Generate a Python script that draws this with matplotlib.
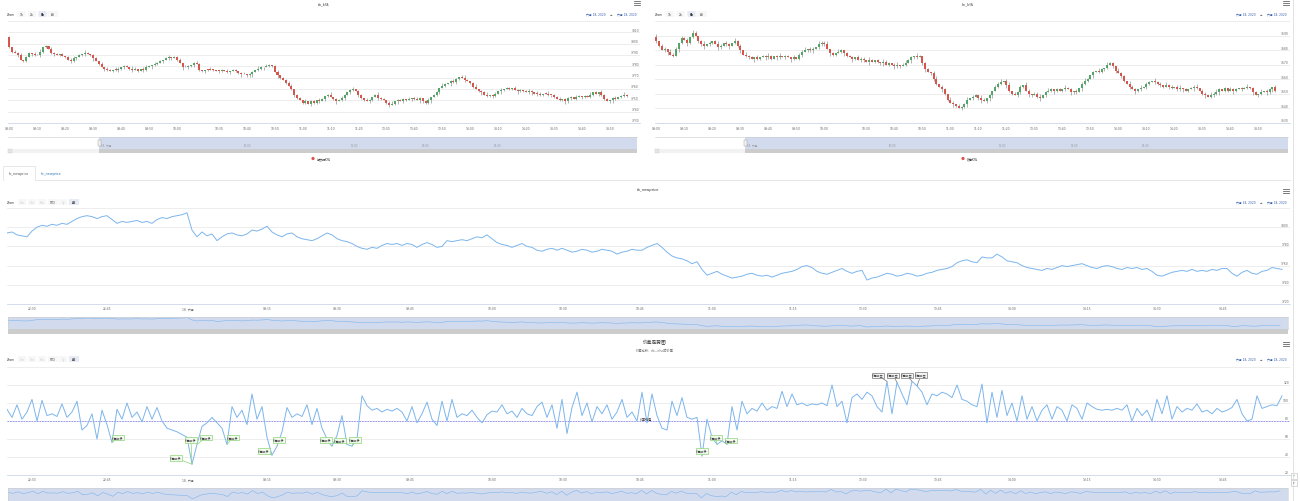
import matplotlib
matplotlib.use('Agg')
import matplotlib.pyplot as plt
import matplotlib.transforms as mtransforms
from matplotlib.patches import Rectangle, FancyBboxPatch, Circle

plt.rcParams['font.family'] = ['DejaVu Sans', 'Noto Sans CJK SC']

# ---------------- data ----------------
rb_open_first = 3806
rb_close = [3797, 3793, 3792, 3790, 3786, 3785, 3788, 3792, 3791, 3790,
            3790, 3793, 3797, 3798, 3795, 3792, 3791, 3790, 3791, 3789,
            3788, 3786, 3785, 3787, 3788, 3790, 3791, 3792, 3791, 3790,
            3787, 3785, 3782, 3779, 3778, 3777, 3776, 3777, 3777, 3778,
            3779, 3780, 3779, 3778, 3777, 3778, 3776, 3778, 3777, 3779,
            3780, 3781, 3782, 3783, 3785, 3786, 3787, 3788, 3787, 3788,
            3786, 3783, 3779, 3779, 3780, 3781, 3783, 3782, 3777, 3776, 3777, 3777, 3777, 3777, 3776,
            3776, 3777, 3776, 3775, 3776, 3777, 3776, 3774, 3773, 3773, 3772, 3773, 3775, 3777, 3778,
            3779, 3779, 3780, 3781, 3780, 3775, 3772, 3770, 3768, 3765, 3763, 3760, 3755, 3752, 3750,
            3748, 3749, 3747, 3749, 3748, 3750, 3749, 3751, 3754, 3755, 3753, 3751, 3749, 3750, 3752,
            3755, 3757, 3759, 3760, 3758, 3755, 3752, 3750, 3749, 3750, 3753, 3755, 3752, 3751, 3750,
            3748, 3746, 3747, 3749, 3750, 3749, 3751, 3750, 3751, 3752, 3751, 3750, 3752, 3749, 3748,
            3750, 3753, 3755, 3757, 3761, 3763, 3764, 3765, 3767, 3766, 3769, 3771, 3770, 3768, 3767,
            3765, 3762, 3760, 3758, 3757, 3755, 3754, 3755, 3754, 3756, 3758, 3759, 3760, 3761, 3760,
            3761, 3759, 3758, 3759, 3758, 3757, 3758, 3757, 3756, 3756, 3755, 3756, 3756, 3755, 3755,
            3753, 3751, 3750, 3751, 3749, 3752, 3753, 3751, 3753, 3754, 3753, 3754, 3753, 3755, 3757,
            3756, 3757, 3755, 3751, 3749, 3750, 3752, 3751, 3753, 3754, 3755, 3754]
rb_wick_up = ("1011201102 1201021101 0112010210 1102011021 0110210012 1021101201 1102101210 0121011020 "
              "1101201102 1021012011 2101102011 0210120112 1012011021 0121101201 1102012101 2011021012 "
              "1012101201 1201102011 0211012102 1012011201 1102101120 1021101201 2101102011")
rb_wick_dn = ("1102011021 0211012010 1021101201 2010210112 1101201021 0211020110 1020112011 2101021012 "
              "0112011201 1201102101 0121011021 1102101201 2011021101 1021012012 0110210211 1201101021 "
              "2102011012 0112102101 1021101202 1101210112 1201021011 0211012101 1102011021")

hc_open_first = 3689
hc_close = [3686, 3683, 3680, 3681, 3679, 3677, 3676, 3681, 3685, 3688,
            3687, 3685, 3689, 3692, 3690, 3686, 3684, 3683, 3684, 3685,
            3686, 3684, 3682, 3683, 3685, 3684, 3683, 3685, 3686, 3683,
            3680, 3677, 3676, 3675, 3674, 3675, 3674, 3675, 3676, 3675,
            3676, 3674, 3676, 3675, 3676, 3675, 3676, 3675, 3674, 3675,
            3674, 3677, 3679, 3680, 3681, 3680, 3681, 3682, 3684, 3685,
            3684, 3681, 3678, 3677, 3678, 3679, 3680, 3678, 3676, 3675, 3674, 3675, 3673, 3674, 3673,
            3672, 3673, 3672, 3673, 3672, 3671, 3672, 3670, 3671, 3670, 3669, 3670, 3669, 3670, 3671,
            3673, 3675, 3676, 3675, 3676, 3671, 3667, 3665, 3664, 3660, 3657, 3655, 3653, 3650, 3646,
            3644, 3643, 3642, 3640, 3641, 3643, 3646, 3647, 3648, 3649, 3647, 3646, 3645, 3647, 3649,
            3652, 3655, 3657, 3658, 3659, 3656, 3652, 3650, 3649, 3651, 3655, 3656, 3652, 3650, 3649,
            3650, 3648, 3647, 3649, 3651, 3652, 3653, 3652, 3653, 3652, 3653, 3654, 3653, 3651, 3652,
            3651, 3654, 3657, 3659, 3660, 3663, 3665, 3666, 3665, 3667, 3668, 3670, 3671, 3669, 3666,
            3664, 3662, 3659, 3657, 3655, 3653, 3652, 3653, 3654, 3655, 3657, 3658, 3659, 3658, 3657,
            3656, 3655, 3656, 3655, 3654, 3655, 3653, 3654, 3653, 3652, 3653, 3654, 3655, 3654, 3652,
            3650, 3649, 3648, 3649, 3650, 3651, 3653, 3652, 3654, 3652, 3653, 3652, 3653, 3654, 3653,
            3654, 3655, 3654, 3651, 3649, 3650, 3651, 3652, 3651, 3653, 3655, 3652]
hc_wick_up = ("2011021102 1102101201 0121011021 1021102011 2101201102 0112011021 1201021011 1021102101 "
              "0211012012 1102101102 2011021011 1201102101 0112012011 1021011201 2101102110 1012101021 "
              "0211021102 1102011021 1021101201 0112011021 2101021101 1201102011 0121101102")
hc_wick_dn = ("1101201021 0211011201 1021012011 2011021102 1102101021 0120112011 1021101210 2101102011 "
              "1201021101 0211012011 1021102101 1201012012 2011021101 1102101201 0121011021 1021102011 "
              "1101201102 0211021011 1102101120 1021012011 1201102101 0112011021 2101102011")

k_tick_idx = [0, 10, 20, 30, 40, 50, 60, 75, 85, 95, 105, 115, 125, 135, 145, 155, 165, 175, 185, 195, 205, 215]
k_tick_lab = ['09:00', '09:10', '09:20', '09:30', '09:40', '09:50', '10:00', '10:30', '10:40', '10:50', '11:00',
              '11:10', '11:20', '13:30', '13:40', '13:50', '14:00', '14:10', '14:20', '14:30', '14:40', '14:50']

rb_grid = [3820, 3810, 3800, 3790, 3780, 3770, 3760, 3750, 3740, 3730]
rb_labels = [3810, 3800, 3790, 3780, 3770, 3760, 3750, 3740, 3730]
hc_grid = [3700, 3690, 3680, 3670, 3660, 3650, 3640, 3630]
hc_labels = [3690, 3680, 3670, 3660, 3650, 3640, 3630]

rb_nav_labels = ['18. 六月', '10:00', '11:00', '14:00', '14:30']
hc_nav_labels = ['18. 六月', '10:00', '11:00', '14:00', '14:30']

mid_price = [3794, 3795, 3792, 3791, 3790, 3796, 3800, 3802, 3801, 3803, 3802, 3804, 3803, 3806, 3809, 3811,
             3812, 3811, 3809, 3811, 3812, 3808, 3804, 3806, 3805, 3806, 3807, 3805, 3806, 3804, 3808, 3810,
             3809, 3811, 3812, 3813, 3815, 3797, 3790, 3795, 3791, 3793, 3786, 3790, 3793, 3794, 3792, 3791,
             3793, 3797, 3796, 3798, 3801, 3795, 3792, 3790, 3793, 3794, 3790, 3788, 3787, 3786, 3788, 3791,
             3794, 3792, 3788, 3786, 3785, 3783, 3780, 3778, 3777, 3779, 3778, 3781, 3783, 3782, 3783, 3781,
             3783, 3782, 3779, 3782, 3784, 3782, 3779, 3780, 3786, 3785, 3786, 3787, 3786, 3788, 3790, 3789,
             3792, 3788, 3784, 3782, 3781, 3779, 3781, 3783, 3780, 3779, 3776, 3775, 3777, 3778, 3776, 3778,
             3776, 3774, 3775, 3777, 3776, 3774, 3775, 3777, 3776, 3775, 3772, 3774, 3775, 3777, 3776, 3776,
             3779, 3781, 3783, 3779, 3774, 3770, 3768, 3767, 3765, 3762, 3764, 3756, 3750, 3752, 3754, 3751,
             3749, 3747, 3748, 3749, 3751, 3752, 3750, 3749, 3750, 3748, 3750, 3752, 3753, 3754, 3756, 3759,
             3760, 3758, 3754, 3752, 3751, 3753, 3755, 3757, 3754, 3752, 3754, 3755, 3745, 3747, 3748, 3750,
             3752, 3751, 3749, 3750, 3752, 3751, 3749, 3750, 3752, 3753, 3755, 3756, 3757, 3759, 3763, 3765,
             3766, 3764, 3763, 3769, 3768, 3768, 3772, 3769, 3765, 3764, 3763, 3760, 3758, 3757, 3756, 3755,
             3757, 3756, 3758, 3760, 3759, 3760, 3761, 3762, 3760, 3758, 3757, 3759, 3760, 3759, 3757, 3756,
             3758, 3757, 3758, 3756, 3757, 3754, 3750, 3749, 3751, 3753, 3754, 3755, 3754, 3756, 3754, 3755,
             3754, 3756, 3755, 3757, 3757, 3752, 3749, 3753, 3755, 3752, 3751, 3754, 3755, 3758, 3757, 3756]

spread = [93, 84, 98, 82, 90, 104, 80, 103, 86, 88, 85, 99, 84, 90, 102, 70,
          75, 88, 60, 92, 76, 56, 93, 82, 100, 84, 90, 79, 96, 82, 95, 80,
          72, 70, 68, 65, 62, 32, 54, 74, 78, 84, 78, 72, 54, 96, 84, 92,
          76, 110, 82, 96, 62, 42, 52, 68, 95, 84, 88, 85, 98, 76, 94, 72,
          60, 52, 64, 86, 54, 52, 60, 108, 97, 92, 94, 90, 93, 91, 94, 90,
          80, 96, 78, 88, 101, 82, 75, 102, 80, 104, 84, 88, 86, 92, 84, 78,
          87, 91, 90, 98, 88, 91, 84, 94, 88, 86, 96, 101, 84, 98, 72, 104,
          66, 95, 112, 86, 100, 79, 96, 88, 98, 82, 90, 104, 84, 90, 80, 112,
          78, 110, 86, 72, 70, 102, 86, 106, 84, 82, 84, 41, 82, 62, 54, 58,
          54, 96, 70, 102, 88, 94, 91, 100, 92, 96, 94, 113, 96, 110, 98, 100,
          97, 99, 98, 100, 97, 120, 96, 102, 78, 106, 110, 104, 112, 108, 96, 90,
          124, 88, 123, 110, 98, 124, 119, 112, 98, 110, 108, 112, 110, 106, 120, 104,
          102, 98, 96, 121, 78, 112, 84, 114, 86, 100, 80, 108, 82, 96, 80, 92,
          98, 82, 96, 92, 80, 98, 94, 82, 100, 96, 93, 92, 93, 92, 94, 92,
          98, 80, 94, 86, 92, 80, 104, 88, 108, 82, 96, 90, 94, 92, 99, 90,
          92, 88, 94, 90, 92, 95, 104, 88, 80, 82, 108, 94, 96, 98, 97, 108]
spread_mean = 80

long_signals = [21, 37, 37, 38, 44, 53, 54, 65, 68, 69, 139, 142, 144]
short_signals = [176, 178, 181, 182]

mid_tick_pos = [5, 20, 36.2, 52, 66, 80.6, 97, 111.2, 126.6, 141, 157.2, 171.2, 186.2, 201, 216, 230, 243.2]
mid_tick_lab = ['22:30', '22:45', '18. 六月', '09:15', '09:30', '09:45', '10:00', '10:30', '10:45', '11:00',
                '11:15', '13:30', '13:45', '14:00', '14:15', '14:30', '14:45']
mid_grid = [3820, 3800, 3780, 3760, 3740, 3720]
mid_labels = [3800, 3780, 3760, 3740, 3720]
sp_grid = [140, 120, 100, 80, 60, 40, 20]
sp_labels = [120, 100, 80, 60, 40, 20]

# ---------------- styles / layout ----------------
W, H = 1300, 502
fig = plt.figure(figsize=(W / 100, H / 100), dpi=100)
fig.patch.set_facecolor('white')

UP, DOWN = '#55a468', '#d5574c'
LINE = '#7cb5ec'
AX_TXT = '#666666'
LBL = 2.2

ov = fig.add_axes([0, 0, 1, 1], zorder=-1)
ov.set_xlim(0, W)
ov.set_ylim(H, 0)
ov.axis('off')


def add_ax(x0, y0, x1, y1, z=1):
    return fig.add_axes([x0 / W, 1 - y1 / H, (x1 - x0) / W, (y1 - y0) / H], zorder=z)


def txt(x, y, s, size=LBL, color=AX_TXT, ha='center', va='center', **kw):
    ov.text(x, y, s, fontsize=size, color=color, ha=ha, va=va, **kw)


def setup(ax, xlim, ylim, grid_vals, label_vals, xt_pos, xt_lab):
    ax.set_xlim(*xlim)
    ax.set_ylim(*ylim)
    ax.set_facecolor('none')
    for s in ('top', 'right', 'left'):
        ax.spines[s].set_visible(False)
    ax.spines['bottom'].set_color('#ccd6eb')
    ax.spines['bottom'].set_linewidth(0.6)
    ax.set_yticks(grid_vals)
    ax.set_yticklabels([])
    ax.tick_params(axis='y', length=0)
    ax.grid(axis='y', color='#e6e6e6', lw=0.5)
    ax.set_axisbelow(True)
    ax.set_xticks(xt_pos)
    ax.set_xticklabels(xt_lab)
    ax.tick_params(axis='x', length=0, pad=1.8, labelsize=LBL, labelcolor=AX_TXT)
    tr = mtransforms.offset_copy(mtransforms.blended_transform_factory(ax.transAxes, ax.transData),
                                 fig=fig, x=-1, y=0.6, units='dots')
    for v in label_vals:
        ax.text(1.0, v, str(v), transform=tr, ha='right', va='bottom', fontsize=LBL, color=AX_TXT)


def digits(s, n):
    return [int(c) for c in s.replace(' ', '')][:n]


def candles(ax, open_first, closes, wu, wd):
    n = len(closes)
    opens = [open_first] + closes[:-1]
    up = digits(wu, n)
    dn = digits(wd, n)
    idx = list(range(n))
    hi = [max(o, c) + u for o, c, u in zip(opens, closes, up)]
    lo = [min(o, c) - d for o, c, d in zip(opens, closes, dn)]
    ax.vlines(idx, lo, hi, color='#7a7a7a', lw=0.4, zorder=2)
    bottoms = [min(o, c) for o, c in zip(opens, closes)]
    heights = [max(abs(c - o), 0.35) for o, c in zip(opens, closes)]
    cols = [UP if c > o else DOWN for o, c in zip(opens, closes)]
    ax.bar(idx, heights, bottom=bottoms, width=0.72, color=cols, lw=0, zorder=3)


def hamburger(x, y):
    for dy in (-2, 0, 2):
        ov.plot([x - 3, x + 3], [y + dy, y + dy], color='#666666', lw=0.6)


def button(cx, cy, label, selected=False, enabled=True):
    w = 4 + 2.1 * len(label)
    ov.add_patch(FancyBboxPatch((cx - w / 2, cy - 3), w, 6, boxstyle='round,pad=0,rounding_size=1',
                                fc='#e6ebf5' if selected else '#f7f7f7', ec='none'))
    txt(cx, cy, label, size=2.1, color=('#333333' if enabled else '#cccccc'),
        fontweight='bold' if selected else 'normal')


def daterange(xr, y):
    txt(xr - 42, y, '六月 18, 2020', size=2.1, color='#335cad')
    txt(xr - 27, y, '→', size=2.1, color='#333333')
    txt(xr - 11, y, '六月 18, 2020', size=2.1, color='#335cad')


def k_navigator(x0, x1, y0, y1, sel0, labels, label_x):
    ov.add_patch(Rectangle((sel0, y0), x1 - sel0, y1 - y0, fc='#d2daee', ec='none'))
    ov.plot([x0, x1], [y0, y0], color='#cccccc', lw=0.4)
    ov.add_patch(Rectangle((x0, y1), x1 - x0, 4, fc='#f2f2f2', ec='none'))
    ov.add_patch(Rectangle((sel0, y1), x1 - sel0, 4, fc='#cccccc', ec='none'))
    ov.add_patch(Rectangle((x0, y1), 4, 4, fc='#e6e6e6', ec='#cccccc', lw=0.3))
    ov.add_patch(Rectangle((sel0 - 1.5, y0 + 3), 3, 6, fc='#f2f2f2', ec='#999999', lw=0.3))
    for s, xx in zip(labels, label_x):
        txt(xx, y0 + 8, s, size=1.9, color='#999999', ha='left')


# ---------------- top-left: rb K ----------------
ax_rb = add_ax(8, 22, 640, 124)
candles(ax_rb, rb_open_first, rb_close, rb_wick_up, rb_wick_dn)
setup(ax_rb, (-0.5, 225.8), (3730, 3820), rb_grid, rb_labels, k_tick_idx, k_tick_lab)
txt(323, 4, 'rb_k线', size=2.6, color='#333333')
hamburger(637, 4)
txt(11, 15, 'Zoom', size=2.1, color='#333333')
button(21.5, 15, '1h')
button(32, 15, '2h')
button(42.5, 15, '6h', selected=True)
button(53, 15, 'All')
daterange(638, 15)
k_navigator(8, 637, 138, 150, 99, rb_nav_labels, [101, 244, 351, 422, 494])
ov.add_patch(Circle((313, 159.5), 1.6, fc='#e0524b', ec='none'))
txt(317, 159.5, '螺纹钢K线', size=2.2, color='#333333', ha='left')

# ---------------- top-right: hc K ----------------
ax_hc = add_ax(655, 22, 1290, 124)
candles(ax_hc, hc_open_first, hc_close, hc_wick_up, hc_wick_dn)
setup(ax_hc, (-0.5, 226.3), (3630, 3700), hc_grid, hc_labels, k_tick_idx, k_tick_lab)
txt(968, 4, 'hc_k线', size=2.6, color='#333333')
hamburger(1286, 4)
txt(658.5, 15, 'Zoom', size=2.1, color='#333333')
button(670, 15, '1h')
button(680.5, 15, '2h')
button(691.5, 15, '6h', selected=True)
button(701.5, 15, 'All')
daterange(1288, 15)
k_navigator(655, 1288, 138, 150, 745, hc_nav_labels, [747, 889, 999, 1071, 1142])
ov.add_patch(Circle((963, 159.5), 1.6, fc='#e0524b', ec='none'))
txt(967, 159.5, '热卷K线', size=2.2, color='#333333', ha='left')

# ---------------- tabs ----------------
ov.plot([3, 3, 35, 35], [181, 167, 167, 181], color='#dddddd', lw=0.5)
ov.plot([35, 1290], [181, 181], color='#dddddd', lw=0.5)
txt(19, 174, 'rb_newprice', size=2.4, color='#555555')
txt(51, 174, 'hc_newprice', size=2.4, color='#337ab7')

# ---------------- middle: rb_newprice ----------------
M = len(mid_price)
ax_mid = add_ax(7, 209, 1290, 305)
ax_mid.plot(range(M), mid_price, color=LINE, lw=0.7, zorder=3)
setup(ax_mid, (0, 256.6), (3720, 3820), mid_grid, mid_labels, mid_tick_pos, mid_tick_lab)
txt(648, 190, 'rb_newprice', size=2.6, color='#333333')
hamburger(1286, 192)
txt(11, 203, 'Zoom', size=2.1, color='#333333')
for cx, lab, en in [(22, '1m', False), (32, '3m', False), (42, '6m', False), (53, 'YTD', True), (63, '1y', False)]:
    button(cx, 203, lab, enabled=en)
button(74, 203, 'All', selected=True)
daterange(1288, 203)

nav_mid = add_ax(8, 318, 1288, 330)
nav_mid.set_facecolor('#d2daee')
nav_mid.plot(range(M), mid_price, color=LINE, lw=0.4)
nav_mid.set_xlim(0, 256.6)
nav_mid.set_ylim(min(mid_price) - 15, max(mid_price) + 5)
nav_mid.set_xticks([])
nav_mid.set_yticks([])
for s in nav_mid.spines.values():
    s.set_color('#cccccc')
    s.set_linewidth(0.4)
ov.add_patch(Rectangle((8, 330), 1280, 4.5, fc='#cccccc', ec='none'))
nav_lab_x = [117, 198, 273, 345, 417, 497, 570, 643, 717, 793, 867, 942, 1013, 1087, 1158, 1225]
for s, xx in zip(mid_tick_lab[1:], nav_lab_x):
    txt(xx, 327, s, size=1.9, color='#999999', ha='left')

# ---------------- bottom: spread ----------------
ax_sp = add_ax(7, 368, 1290, 476)
ax_sp.plot(range(len(spread)), spread, color=LINE, lw=0.7, zorder=3)
ax_sp.axhline(spread_mean, color='#8a8af5', lw=0.6, ls=(0, (2, 1.2)), zorder=2)
setup(ax_sp, (0, 256.6), (20, 140), sp_grid, sp_labels, mid_tick_pos, mid_tick_lab)
ax_sp.text(127.8, spread_mean + 2.5, '价差均值', fontsize=2.2, color='#333333', ha='center', va='center', zorder=4)

long_off = [(6, 5), (-16, 6), (-1, 24), (9, 7), (6, 7), (-8, 4), (2, 6), (-6, 6), (-7, 4), (3, 6), (0, 5), (-1, 7), (4, 4)]
short_off = [(-9, 6), (-4, 7), (-5, 6), (4, 11)]
for i, (dx, dy) in zip(long_signals, long_off):
    ax_sp.annotate('价差做多', xy=(i, spread[i]), xytext=(dx, dy), textcoords='offset pixels',
                   ha='center', va='center', fontsize=2.1, color='#333333', zorder=6, annotation_clip=False,
                   bbox=dict(boxstyle='square,pad=0.25', fc='#f2fbee', ec='#8fd47c', lw=0.5),
                   arrowprops=dict(arrowstyle='-', color='#8fd47c', lw=0.5, shrinkA=0, shrinkB=0))
for i, (dx, dy) in zip(short_signals, short_off):
    ax_sp.annotate('价差做空', xy=(i, spread[i]), xytext=(dx, dy), textcoords='offset pixels',
                   ha='center', va='center', fontsize=2.1, color='#333333', zorder=6, annotation_clip=False,
                   bbox=dict(boxstyle='square,pad=0.25', fc='#f4f4f4', ec='#777777', lw=0.5),
                   arrowprops=dict(arrowstyle='-', color='#777777', lw=0.5, shrinkA=0, shrinkB=0))

txt(655, 343, '价差走势图', size=3.4, color='#333333')
txt(655, 351, '价差比较：rb-->hc的价差', size=2.3, color='#666666')
hamburger(1286, 345)
txt(11, 360, 'Zoom', size=2.1, color='#333333')
for cx, lab, en in [(22, '1m', False), (32, '3m', False), (42, '6m', False), (53, 'YTD', True), (63, '1y', False)]:
    button(cx, 360, lab, enabled=en)
button(74, 360, 'All', selected=True)
daterange(1288, 360)

nav_sp = add_ax(8, 489, 1288, 502)
nav_sp.set_facecolor('#d2daee')
nav_sp.plot(range(len(spread)), spread, color=LINE, lw=0.4)
nav_sp.set_xlim(0, 256.6)
nav_sp.set_ylim(min(spread) - 20, max(spread) + 10)
nav_sp.set_xticks([])
nav_sp.set_yticks([])
for s in nav_sp.spines.values():
    s.set_color('#cccccc')
    s.set_linewidth(0.4)
for s, xx in zip(mid_tick_lab[1:], nav_lab_x):
    txt(xx, 497, s, size=1.9, color='#999999', ha='left')

# ---------------- page chrome ----------------
ov.plot([1293, 1293], [0, 502], color='#dddddd', lw=0.6)
ov.add_patch(Rectangle((1291, 474), 6, 6, fc='white', ec='#bbbbbb', lw=0.4))
ov.add_patch(Rectangle((1291, 481), 6, 6, fc='white', ec='#bbbbbb', lw=0.4))
txt(1294, 477.5, '^', size=2.2, color='#666666')
txt(1294, 483.5, 'v', size=2.0, color='#666666')

fig.savefig('out.png', dpi=100, facecolor='white')
